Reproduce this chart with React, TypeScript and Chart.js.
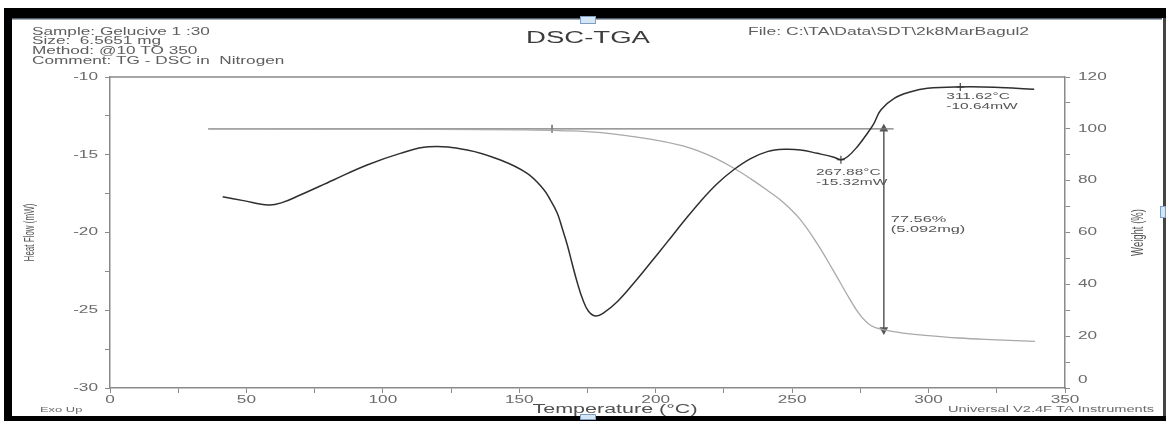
import React, { useEffect, useRef } from "react";
import { Chart, registerables } from "chart.js";

Chart.register(...registerables);

// DSC heat flow trace (mW) against temperature (°C)
const dscTemperature = [
  41.3, 48.9, 58.1, 63.0, 69.7, 81.9, 94.2, 106.4, 116.8, 130.9, 143.1, 152.9,
  158.8, 161.4, 163.9, 165.7, 167.6, 169.5, 171.3, 173.2, 175.3, 177.9, 180.8,
  185.9, 192.0, 198.1, 204.2, 210.3, 216.4, 222.6, 228.7, 234.8, 240.9, 247.0,
  253.1, 259.2, 265.3, 267.88, 270.3, 273.9, 277.6, 280.0, 282.5, 287.4, 293.5,
  299.6, 311.62, 324.0, 338.7,
];
const dscHeatFlow = [
  -17.7, -17.95, -18.23, -18.08, -17.59, -16.62, -15.66, -14.91, -14.48, -14.69,
  -15.34, -16.2, -17.2, -17.91, -18.75, -19.71, -20.8, -22.09, -23.25, -24.28,
  -25.05, -25.37, -25.18, -24.45, -23.25, -21.95, -20.62, -19.28, -18.0, -16.85,
  -15.95, -15.25, -14.8, -14.65, -14.69, -14.91, -15.16, -15.32, -15.13, -14.48,
  -13.62, -12.98, -12.12, -11.37, -10.95, -10.73, -10.64, -10.66, -10.79,
];

// TGA weight trace (%) against temperature (°C)
const tgaTemperature = [
  36, 80, 120, 150, 165, 180, 198, 210, 216, 222, 229, 235, 241, 247, 253, 259,
  265, 271, 275, 279, 283.6, 290, 297, 311, 325, 339,
];
const tgaWeight = [
  100, 99.9, 99.8, 99.6, 99.3, 98.5, 96.0, 93.4, 91.3, 88.6, 84.6, 80.6, 76.2,
  71.4, 65.0, 56.0, 45.5, 34.5, 28.0, 24.0, 22.44, 21.3, 20.5, 19.3, 18.6, 18.0,
];

// Analysed DSC points: temperature (°C) and heat flow (mW)
const peakTemperature = [267.88, 311.62];
const peakHeatFlow = [-15.32, -10.64];

// Weight-loss step
const stepStartT = 162;
const stepBaselineEndT = 287.2;
const stepBaselineStartT = 36;
const stepT = 283.6;
const stepLossPct = 77.56;
const stepLossMg = 5.092;

// Header lines
const headerLines = [
  "Sample: Gelucive 1 :30",
  "Size:  6.5651 mg",
  "Method: @10 TO 350",
  "Comment: TG - DSC in  Nitrogen",
];
const fileLine = "File: C:\\TA\\Data\\SDT\\2k8MarBagul2";
const titleText = "DSC-TGA";
const xTitle = "Temperature (°C)";
const yTitle = "Heat Flow (mW)";
const y1Title = "Weight (%)";
const cornerLeft = "Exo Up";
const cornerRight = "Universal V2.4F TA Instruments";

const SX = 1.72; // printout text is drawn wide
const FONT = '"Liberation Sans", Arial, sans-serif';

function txt(
  ctx: CanvasRenderingContext2D,
  s: string,
  x: number,
  y: number,
  size: number,
  opts: { align?: CanvasTextAlign; color?: string; weight?: string; rot?: number } = {}
) {
  const { align = "left", color = "#5a5a5a", weight = "normal", rot = 0 } = opts;
  ctx.save();
  ctx.translate(x, y);
  ctx.scale(SX, 1);
  if (rot) ctx.rotate(rot);
  ctx.font = `${weight} ${size}px ${FONT}`;
  ctx.fillStyle = color;
  ctx.textAlign = align;
  ctx.textBaseline = "middle";
  ctx.fillText(s, 0, 0);
  ctx.restore();
}

const paperPlugin = {
  id: "paper",
  beforeDraw(chart: any) {
    const { ctx, width, height } = chart;
    ctx.save();
    ctx.fillStyle = "#fff";
    ctx.fillRect(0, 0, width, height);
    ctx.restore();
  },
  afterDraw(chart: any) {
    const { ctx, chartArea: a } = chart;
    const { x, y, y1 } = chart.scales;

    // top border of the plot box
    ctx.save();
    ctx.strokeStyle = "#8a8a8a";
    ctx.lineWidth = 1.5;
    ctx.beginPath();
    ctx.moveTo(a.left, a.top);
    ctx.lineTo(a.right, a.top);
    ctx.stroke();
    ctx.restore();

    // tick labels
    x.ticks.forEach((t: any) => {
      if (t.value % 50 === 0)
        txt(ctx, String(t.value), x.getPixelForValue(t.value), a.bottom + 12, 10, { align: "center", color: "#6a6a6a" });
    });
    y.ticks.forEach((t: any) => {
      if (t.value % 5 === 0)
        txt(ctx, String(t.value), a.left - 12, y.getPixelForValue(t.value), 10, { align: "right", color: "#6a6a6a" });
    });
    y1.ticks.forEach((t: any) => {
      if (t.value % 20 === 0) {
        const py = y1.getPixelForValue(t.value) - (t.value === 0 ? 8 : 0);
        txt(ctx, String(t.value), a.right + 13, py, 10, { align: "left", color: "#6a6a6a" });
      }
    });

    // axis titles
    txt(ctx, xTitle, 615, 410, 12.5, { align: "center", color: "#505050" });
    txt(ctx, yTitle, 30, (a.top + a.bottom) / 2, 8, { align: "center", color: "#555", rot: -Math.PI / 2 });
    txt(ctx, y1Title, 1138, (a.top + a.bottom) / 2, 9.5, { align: "center", color: "#555", rot: -Math.PI / 2 });
    txt(ctx, cornerLeft, 40, 410, 7.5, { color: "#6a6a6a" });
    txt(ctx, cornerRight, 948, 410, 8.5, { color: "#6a6a6a" });

    // header
    headerLines.forEach((s, i) => txt(ctx, s, 32, 32 + i * 9.7, 10, { color: "#5e5e5e" }));
    txt(ctx, fileLine, 748, 32, 10.2, { color: "#5e5e5e" });
    txt(ctx, titleText, 588, 39, 16, { align: "center", color: "#3c3c3c" });

    // analysed point labels
    peakTemperature.forEach((t, i) => {
      const px = x.getPixelForValue(t);
      const py = y.getPixelForValue(peakHeatFlow[i]);
      const dx = i === 0 ? -25 : -14;
      const dy = i === 0 ? 13 : 10;
      txt(ctx, `${t.toFixed(2)}°C`, px + dx, py + dy, 9, { color: "#555" });
      txt(ctx, `${peakHeatFlow[i].toFixed(2)}mW`, px + dx, py + dy + 9.5, 9, { color: "#555" });
    });
    const ax = x.getPixelForValue(stepT);
    const amid = y1.getPixelForValue(100 - stepLossPct / 2);
    txt(ctx, `${stepLossPct.toFixed(2)}%`, ax + 7, amid - 10, 9.5, { color: "#555" });
    txt(ctx, `(${stepLossMg.toFixed(3)}mg)`, ax + 7, amid, 9.5, { color: "#555" });

    // printout frame
    ctx.save();
    ctx.fillStyle = "#000";
    ctx.fillRect(4, 8, 1162, 10);
    ctx.fillRect(4, 8, 8, 413);
    ctx.fillRect(4, 416, 1162, 5);
    ctx.fillStyle = "#4d5b6a";
    ctx.fillRect(12, 18, 1150, 1.5);
    ctx.fillStyle = "#444";
    ctx.fillRect(1163, 18, 3, 398);
    // selection handles
    ctx.fillStyle = "#d4e6f6";
    ctx.strokeStyle = "#7d9fc2";
    ctx.lineWidth = 1;
    [[580, 16, 16, 8], [1160, 206, 6, 12], [580, 414, 16, 6]].forEach(([hx, hy, hw, hh]) => {
      ctx.fillRect(hx, hy, hw, hh);
      ctx.strokeRect(hx + 0.5, hy + 0.5, hw - 1, hh - 1);
    });
    ctx.restore();
  },
};

export default function App() {
  const ref = useRef<HTMLCanvasElement | null>(null);

  useEffect(() => {
    if (!ref.current) return;
    const axisColor = "#8a8a8a";
    const chart = new Chart(ref.current, {
      type: "line",
      data: {
        datasets: [
          {
            label: "Heat Flow",
            data: dscTemperature.map((t, i) => ({ x: t, y: dscHeatFlow[i] })),
            yAxisID: "y",
            borderColor: "#2f2f2f",
            borderWidth: 1.5,
            pointRadius: 0,
            tension: 0.4,
          },
          {
            label: "Weight",
            data: tgaTemperature.map((t, i) => ({ x: t, y: tgaWeight[i] })),
            yAxisID: "y1",
            borderColor: "#a9a9a9",
            borderWidth: 1.3,
            pointRadius: 0,
            tension: 0.4,
          },
          {
            label: "Baseline",
            data: [
              { x: stepBaselineStartT, y: 100 },
              { x: stepBaselineEndT, y: 100 },
            ],
            yAxisID: "y1",
            borderColor: "#7a7a7a",
            borderWidth: 1.1,
            pointRadius: 0,
          },
          {
            label: "Step start",
            data: [{ x: stepStartT, y: 100 }],
            yAxisID: "y1",
            showLine: false,
            pointStyle: "line",
            rotation: 90,
            pointRadius: 4,
            borderColor: "#666",
            borderWidth: 1.5,
          },
          {
            label: "Step",
            data: [
              { x: stepT, y: 100 },
              { x: stepT, y: 100 - stepLossPct },
            ],
            yAxisID: "y1",
            borderColor: "#666",
            borderWidth: 1.6,
            pointStyle: "triangle",
            rotation: [0, 180] as any,
            pointRadius: 3.5,
            pointBackgroundColor: "#555",
            pointBorderColor: "#555",
          },
          {
            label: "Peaks",
            data: peakTemperature.map((t, i) => ({ x: t, y: peakHeatFlow[i] })),
            yAxisID: "y",
            showLine: false,
            pointStyle: "cross",
            pointRadius: 4,
            borderColor: "#444",
            borderWidth: 1.2,
          },
        ],
      },
      options: {
        responsive: false,
        animation: false,
        devicePixelRatio: 1,
        events: [],
        layout: { padding: { top: 77, left: 0, right: 0, bottom: 0 } },
        plugins: { legend: { display: false }, tooltip: { enabled: false } },
        scales: {
          x: {
            type: "linear",
            min: 0,
            max: 350,
            ticks: { display: false, stepSize: 25 },
            grid: { drawOnChartArea: false, drawTicks: true, tickLength: 5, color: axisColor },
            border: { display: true, color: axisColor, width: 1.5 },
            afterFit: (s: any) => {
              s.height = 33;
            },
          },
          y: {
            type: "linear",
            position: "left",
            min: -30,
            max: -10,
            ticks: { display: false, stepSize: 2.5 },
            grid: { drawOnChartArea: false, drawTicks: true, tickLength: 5, color: axisColor },
            border: { display: true, color: axisColor, width: 1.5 },
            afterFit: (s: any) => {
              s.width = 110;
            },
          },
          y1: {
            type: "linear",
            position: "right",
            min: 0,
            max: 120,
            ticks: { display: false, stepSize: 10 },
            grid: { drawOnChartArea: false, drawTicks: true, tickLength: 5, color: axisColor },
            border: { display: true, color: axisColor, width: 1.5 },
            afterFit: (s: any) => {
              s.width = 101;
            },
          },
        },
      } as any,
      plugins: [paperPlugin],
    });
    return () => chart.destroy();
  }, []);

  return (
    <div style={{ position: "fixed", left: 0, top: 0, width: 1166, height: 421, background: "#fff" }}>
      <canvas ref={ref} width={1166} height={421} style={{ display: "block" }} />
    </div>
  );
}
